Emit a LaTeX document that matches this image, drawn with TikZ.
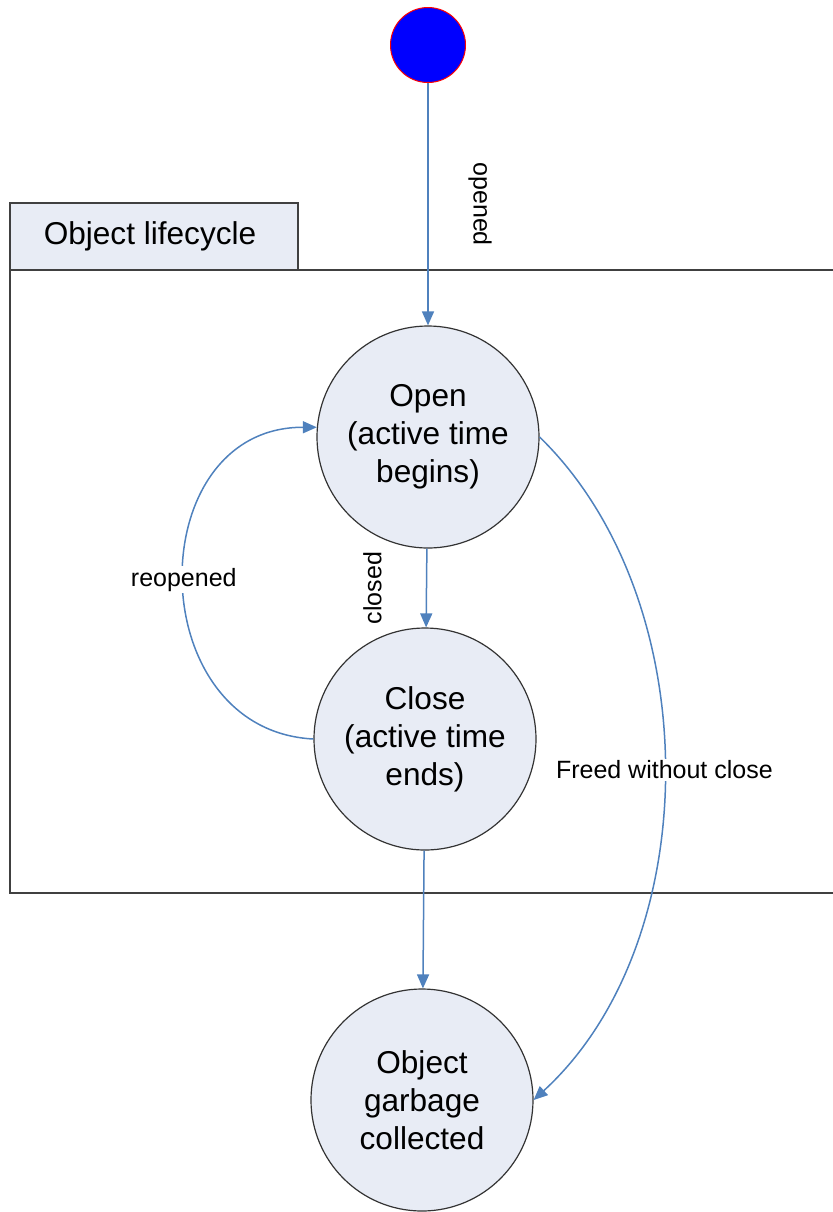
\documentclass[tikz,border=0pt]{standalone}
\usepackage{fontspec}
\setmainfont{Liberation Sans}
\usetikzlibrary{arrows.meta}
\definecolor{flowblue}{RGB}{79,129,189}
\definecolor{statefill}{RGB}{232,236,245}
\tikzset{
  state/.style={circle,draw=black!80,line width=0.6pt,fill=statefill,minimum size=111pt,inner sep=0pt,align=center,font=\fontsize{15.8}{19}\selectfont},
  initstate/.style={circle,draw=red,line width=0.5pt,fill=blue,minimum size=37.5pt,inner sep=0pt},
  flow/.style={->,draw=flowblue,line width=0.75pt},
  flowlabel/.style={font=\fontsize{12.5}{15}\selectfont,inner sep=1pt},
  tabbox/.style={draw=black!75,line width=1pt,fill=statefill,minimum width=144pt,minimum height=33.5pt,inner sep=0pt,font=\fontsize{15.8}{19}\selectfont}
}
\begin{document}
\begin{tikzpicture}[x=0.5pt,y=-0.5pt,>={Triangle[length=7pt,width=6pt]}]
\useasboundingbox (0,0) rectangle (832,1212);
% frame
\node[tabbox] (tab) at (154,236.5) {};
\node[font=\fontsize{15.8}{19}\selectfont] (title) at (150,236) {Object lifecycle};
\draw[black!75,line width=1pt] (10,270) -- (840,270);
\draw[black!75,line width=1pt] (10,203) -- (10,893) -- (840,893);
% states
\node[initstate] (start) at (428,45) {};
\node[state] (open) at (428,437) {Open\\(active time\\begins)};
\node[state] (close) at (425,739) {Close\\(active time\\ends)};
\node[state] (gc) at (422,1100) {Object\\garbage\\collected};
% transitions
\draw[flow] (start) -- (open) node[midway,xshift=26pt,rotate=-90,flowlabel] {opened};
\draw[flow] (open) -- (close) node[midway,xshift=-27pt,rotate=90,flowlabel] {closed};
\draw[flow] (close) -- (gc);
\draw[flow] (close.west) .. controls (140,730) and (140,427) .. (open.175)
  node[pos=0.5,fill=white,flowlabel] {reopened};
\draw[flow] (open.east) .. controls (707,600) and (707,941) .. (gc.east)
  node[pos=0.5,fill=white,flowlabel] {Freed without close};
\end{tikzpicture}
\end{document}
